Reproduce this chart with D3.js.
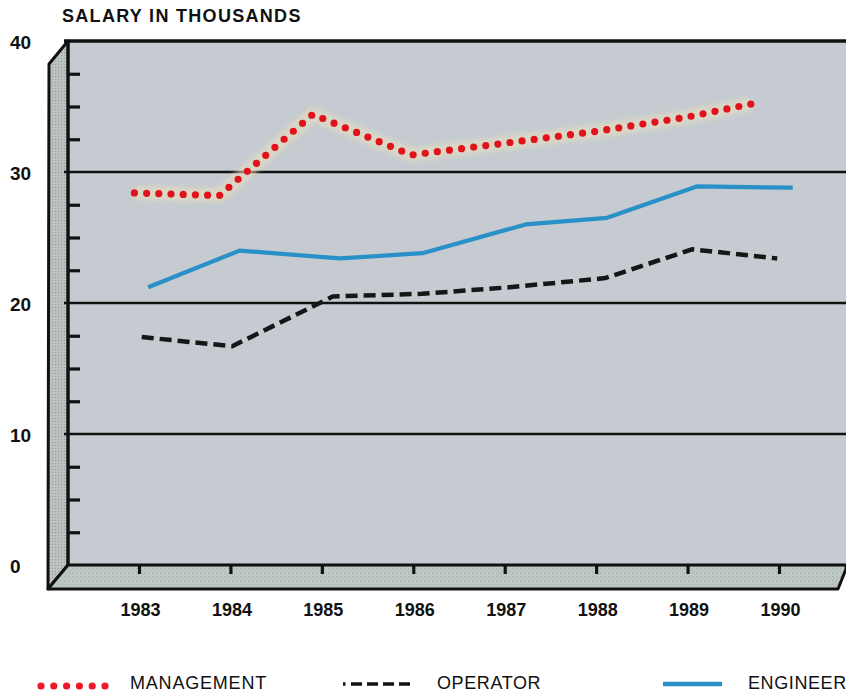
<!DOCTYPE html>
<html>
<head>
<meta charset="utf-8">
<script src="https://cdn.jsdelivr.net/npm/d3@7/dist/d3.min.js"></script>
<style>
  html, body { margin: 0; padding: 0; background: #ffffff; }
  svg { display: block; }
  text { font-family: "Liberation Sans", Arial, sans-serif; fill: #111; }
</style>
</head>
<body>
<svg id="chart" width="846" height="693"></svg>
<script>
// Year categories along the floor of the chart
const years = [1983, 1984, 1985, 1986, 1987, 1988, 1989, 1990];
const yearLabels = ["1983", "1984", "1985", "1986", "1987", "1988", "1989", "1990"];

// Salary axis ticks (thousands)
const majorTicks = [0, 10, 20, 30, 40];
const minorTicks = [2.5, 5, 7.5, 12.5, 15, 17.5, 22.5, 25, 27.5, 32.5, 35, 37.5];

// Plotted position of each point along the year axis, per series
const managementYears = [1982.95, 1983.88, 1984.9, 1985.98, 1987.0, 1988.0, 1989.0, 1989.7];
const managementSalary = [28.4, 28.2, 34.4, 31.3, 32.2, 33.1, 34.2, 35.2];

const operatorYears = [1983.03, 1984.02, 1985.12, 1986.09, 1987.05, 1988.1, 1989.05, 1989.98];
const operatorSalary = [17.4, 16.7, 20.5, 20.7, 21.2, 21.9, 24.1, 23.4];

const engineerYears = [1983.1, 1984.1, 1985.2, 1986.1, 1987.23, 1988.12, 1989.1, 1990.15];
const engineerSalary = [21.2, 24.0, 23.4, 23.8, 26.0, 26.5, 28.9, 28.8];

const legendItems = ["MANAGEMENT", "OPERATOR", "ENGINEER"];

const svg = d3.select("#chart");

const x = d3.scaleLinear().domain([1983, 1990]).range([139, 779]);
const y = d3.scaleLinear().domain([0, 40]).range([565, 41]);

const backLeft = 68, backRight = 846;
const depthX = 20, depthY = 24;   // offset of the front edge of the box

// stipple texture for the side wall and floor
const defs = svg.append("defs");
const pat = defs.append("pattern").attr("id", "stipple")
  .attr("width", 4).attr("height", 4).attr("patternUnits", "userSpaceOnUse");
pat.append("rect").attr("width", 4).attr("height", 4).attr("fill", "#bdc8c4");
pat.append("rect").attr("x", 0).attr("y", 0).attr("width", 1).attr("height", 1).attr("fill", "#9ea7a4");
pat.append("rect").attr("x", 2).attr("y", 2).attr("width", 1).attr("height", 1).attr("fill", "#adb5b2");
const wallPat = defs.append("pattern").attr("id", "stippleWall")
  .attr("width", 3).attr("height", 3).attr("patternUnits", "userSpaceOnUse");
wallPat.append("rect").attr("width", 3).attr("height", 3).attr("fill", "#bcc2bf");
wallPat.append("rect").attr("x", 1).attr("y", 1).attr("width", 1).attr("height", 1).attr("fill", "#949b98");

defs.append("filter").attr("id", "soft").append("feGaussianBlur").attr("stdDeviation", 2.2);

// back plane
svg.append("rect")
  .attr("x", backLeft).attr("y", y(40))
  .attr("width", backRight - backLeft).attr("height", y(0) - y(40))
  .attr("fill", "#c5cbd0");

// left wall
svg.append("path")
  .attr("d", `M${backLeft},${y(40)} L${backLeft - depthX + 1},${y(40) + depthY - 1} L${backLeft - depthX},${y(0) + depthY} L${backLeft},${y(0)} Z`)
  .attr("fill", "url(#stippleWall)")
  .attr("stroke", "#111").attr("stroke-width", 3).attr("stroke-linejoin", "round");

// floor
svg.append("path")
  .attr("d", `M${backLeft},${y(0)} L${backRight},${y(0)} L${backRight},${y(0) + 4} L${backRight - 8},${y(0) + depthY} L${backLeft - depthX},${y(0) + depthY} Z`)
  .attr("fill", "url(#stipple)")
  .attr("stroke", "#111").attr("stroke-width", 3).attr("stroke-linejoin", "round");

// horizontal gridlines for the major ticks
svg.append("g").selectAll("line")
  .data(majorTicks.filter(d => d > 0))
  .join("line")
  .attr("x1", backLeft - 4).attr("x2", backRight)
  .attr("y1", d => y(d)).attr("y2", d => y(d))
  .attr("stroke", "#111")
  .attr("stroke-width", d => d === 40 ? 3.5 : 2.6);

// inner corner edge of the wall
svg.append("line")
  .attr("x1", backLeft).attr("x2", backLeft)
  .attr("y1", y(40)).attr("y2", y(0))
  .attr("stroke", "#111").attr("stroke-width", 3);

// minor tick stubs on the back plane
const minorAxis = d3.axisRight(y).tickValues(minorTicks).tickSize(12).tickFormat("");
const gMinor = svg.append("g").attr("transform", `translate(${backLeft},0)`).call(minorAxis);
gMinor.select(".domain").remove();
gMinor.selectAll(".tick line").attr("stroke", "#111").attr("stroke-width", 3.2);

// salary labels
const yAxis = d3.axisLeft(y).tickValues(majorTicks).tickSize(0).tickPadding(0);
const gY = svg.append("g").attr("transform", "translate(10,1)").call(yAxis);
gY.select(".domain").remove();
gY.selectAll(".tick text")
  .attr("text-anchor", "start").attr("x", 0)
  .style("font-family", '"Liberation Sans", Arial, sans-serif')
  .style("font-size", "19px").style("font-weight", "bold").attr("fill", "#111");

// floor tick stubs
const floorTicks = d3.axisBottom(x).tickValues(years).tickSize(9).tickFormat("");
const gFloor = svg.append("g").attr("transform", `translate(0,${y(0)})`).call(floorTicks);
gFloor.select(".domain").remove();
gFloor.selectAll(".tick line").attr("stroke", "#111").attr("stroke-width", 3.2);

// year labels
const xAxis = d3.axisBottom(x).tickValues(years).tickSize(0).tickPadding(0)
  .tickFormat((d, i) => yearLabels[i]);
const gX = svg.append("g").attr("transform", "translate(1,603)").call(xAxis);
gX.select(".domain").remove();
gX.selectAll(".tick text")
  .style("font-family", '"Liberation Sans", Arial, sans-serif')
  .style("font-size", "18px").style("font-weight", "bold").attr("fill", "#111");

// axis title
svg.append("text")
  .attr("x", 62).attr("y", 22)
  .style("font-size", "18px").style("font-weight", "bold")
  .attr("letter-spacing", "1.3")
  .text("SALARY IN THOUSANDS");

const line = d3.line().x(d => x(d[0])).y(d => y(d[1]));
const mgmt = d3.zip(managementYears, managementSalary);
const oper = d3.zip(operatorYears, operatorSalary);
const eng = d3.zip(engineerYears, engineerSalary);

// engineer: solid blue
svg.append("path").datum(eng).attr("d", line)
  .attr("fill", "none").attr("stroke", "#2a90c8").attr("stroke-width", 4.2)
  .attr("stroke-linejoin", "round");

// operator: black dashes
svg.append("path").datum(oper).attr("d", line)
  .attr("fill", "none").attr("stroke", "#161616").attr("stroke-width", 4.5)
  .attr("stroke-dasharray", "12,6");

// management: red dots with a pale halo
svg.append("path").datum(mgmt).attr("d", line)
  .attr("fill", "none").attr("stroke", "#e9dfbf").attr("stroke-width", 14)
  .attr("stroke-linejoin", "round").attr("opacity", 0.6).attr("filter", "url(#soft)");
svg.append("path").datum(mgmt).attr("d", line)
  .attr("fill", "none").attr("stroke", "#e0131c").attr("stroke-width", 7.2)
  .attr("stroke-linecap", "round").attr("stroke-dasharray", "0,12.2");

// legend
const legendY = 684;
const legendFont = "18px";
const legend = svg.append("g");
// management sample
legend.selectAll("circle.mg").data(d3.range(6)).join("circle")
  .attr("class", "mg")
  .attr("cx", i => 41 + i * 12.8).attr("cy", legendY + 2).attr("r", 3.6)
  .attr("fill", "#ee1826");
legend.append("text").attr("x", 130).attr("y", legendY + 5)
  .style("font-size", legendFont).attr("letter-spacing", "0.8").text(legendItems[0]);
// operator sample
legend.append("line")
  .attr("x1", 343).attr("x2", 345.5).attr("y1", legendY).attr("y2", legendY)
  .attr("stroke", "#111").attr("stroke-width", 3.5);
legend.append("line")
  .attr("x1", 351).attr("x2", 411).attr("y1", legendY).attr("y2", legendY)
  .attr("stroke", "#111").attr("stroke-width", 3.5).attr("stroke-dasharray", "11,5");
legend.append("text").attr("x", 437).attr("y", legendY + 5)
  .style("font-size", legendFont).attr("letter-spacing", "0.6").text(legendItems[1]);
// engineer sample
legend.append("line")
  .attr("x1", 663).attr("x2", 722).attr("y1", legendY).attr("y2", legendY)
  .attr("stroke", "#2a90c8").attr("stroke-width", 4.5);
legend.append("text").attr("x", 748).attr("y", legendY + 5)
  .style("font-size", legendFont).attr("letter-spacing", "0.6").text(legendItems[2]);
</script>
</body>
</html>
